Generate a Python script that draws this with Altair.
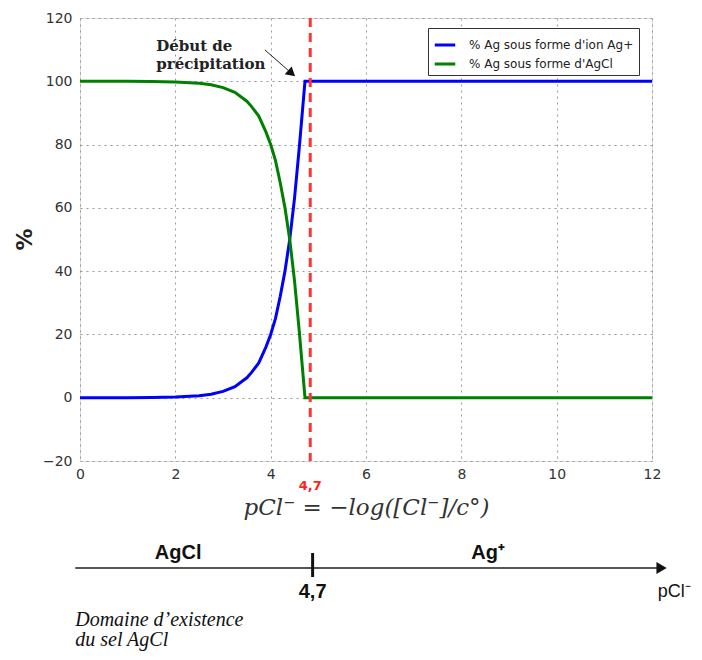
import altair as alt
import pandas as pd

# ---- data ----
pcl = [0, 0.5, 1, 1.5, 2, 2.5, 2.75, 3, 3.25, 3.5, 3.6, 3.75, 3.9, 4, 4.1, 4.2, 4.3, 4.4, 4.5, 4.6, 4.72, 5, 6, 8, 10, 12]
ag_ion = [0, 0.01, 0.02, 0.06, 0.2, 0.6, 1.1, 2, 3.5, 6.3, 8, 11, 16, 20, 25, 32, 40, 50, 63, 79, 100, 100, 100, 100, 100, 100]
ag_cl = [100, 99.99, 99.98, 99.94, 99.8, 99.4, 98.9, 98, 96.5, 93.7, 92, 89, 84, 80, 75, 68, 60, 50, 37, 21, 0, 0, 0, 0, 0, 0]
series_names = ["% Ag sous forme d'ion Ag+", "% Ag sous forme d'AgCl"]
series_colors = ["#0000ff", "#008000"]
x_ticks = [0, 2, 4, 6, 8, 10, 12]
y_ticks = [-20, 0, 20, 40, 60, 80, 100, 120]
precip_pcl = 4.83
precip_label = "4,7"

rows = []
for x, a, b in zip(pcl, ag_ion, ag_cl):
    rows.append({"x": x, "y": a, "serie": series_names[0]})
    rows.append({"x": x, "y": b, "serie": series_names[1]})
df = pd.DataFrame(rows)

xscale = alt.Scale(domain=[0, 12], nice=False, zero=False)
yscale = alt.Scale(domain=[-20, 120], nice=False, zero=False)
xaxis = alt.Axis(values=x_ticks, grid=True, gridDash=[2, 4], gridColor="#999", gridWidth=1,
                 ticks=False, labelFont="DejaVu Sans", labelFontSize=14, labelColor="#333",
                 labelPadding=6, domain=False, labelFlush=False,
                 title="pCl⁻  =  −log([Cl⁻]/c°)", titleFont="DejaVu Serif", titleFontStyle="italic",
                 titleFontWeight="normal", titleFontSize=23, titleColor="#333",
                 titleX=286, titleY=46, titleBaseline="middle")
yaxis = alt.Axis(values=y_ticks, grid=True, gridDash=[2, 4], gridColor="#999", gridWidth=1,
                 ticks=False, labelFont="DejaVu Sans", labelFontSize=14, labelColor="#333",
                 labelPadding=8, domain=False, labelFlush=False,
                 title="%", titleFont="DejaVu Sans", titleFontWeight="bold", titleFontSize=22,
                 titleColor="#222", titleAngle=-90, titleX=-56, titleY=221, titleBaseline="middle",
                 titleAlign="center")

X = alt.X("x:Q", scale=xscale, axis=xaxis)
Y = alt.Y("y:Q", scale=yscale, axis=yaxis)

lines = alt.Chart(df).mark_line(strokeWidth=3, clip=True).encode(
    x=X, y=Y,
    color=alt.Color("serie:N", scale=alt.Scale(domain=series_names, range=series_colors),
                    sort=series_names,
                    legend=alt.Legend(title=None, orient="none", legendX=348, legendY=10,
                                      strokeColor="#333", fillColor="white", padding=5,
                                      symbolType="stroke", symbolStrokeWidth=3, symbolSize=420,
                                      labelFont="DejaVu Sans", labelFontSize=12, labelColor="#222",
                                      labelOffset=12, rowPadding=1, cornerRadius=0, labelLimit=300)),
)

rule_df = pd.DataFrame({"x": [precip_pcl], "label": [precip_label]})
red_rule = alt.Chart(rule_df).mark_rule(color="#ff3333", strokeWidth=3, strokeDash=[9, 6]).encode(x=X)
red_label = alt.Chart(rule_df).mark_text(color="#ff2222", fontWeight="bold", fontSize=13,
                                         font="DejaVu Sans", clip=False).encode(
    x=X, y=alt.value(468), text="label:N")

# annotation "Début de précipitation"
ann_df = pd.DataFrame({"x": [1.6], "y": [111], "t": ["Début de\nprécipitation"]})
ann_text = alt.Chart(ann_df).mark_text(align="left", baseline="middle", lineBreak="\n",
                                       font="DejaVu Serif", fontWeight="bold", fontSize=15,
                                       color="#222", lineHeight=18).encode(
    x=X, y=alt.Y("y:Q", scale=yscale, axis=yaxis), text="t:N")
arrow_line_df = pd.DataFrame({"x": [3.88], "y": [109.9], "x2": [4.44], "y2": [102.5]})
arrow_line = alt.Chart(arrow_line_df).mark_rule(color="#222", strokeWidth=1).encode(
    x=X, y=alt.Y("y:Q", scale=yscale, axis=yaxis), x2="x2:Q", y2="y2:Q")
arrow_head_df = pd.DataFrame({"x": [4.44], "y": [102.5]})
arrow_head = alt.Chart(arrow_head_df).mark_point(shape="triangle-right", filled=True, color="#111",
                                                 size=110, angle=41, opacity=1).encode(
    x=X, y=alt.Y("y:Q", scale=yscale, axis=yaxis))

# bottom diagram
axis_df = pd.DataFrame({"x": [-0.1], "x2": [12.15]})
diag_line = alt.Chart(axis_df).mark_rule(color="#555", strokeWidth=2, clip=False).encode(
    x=X, x2="x2:Q", y=alt.value(550))
head_df = pd.DataFrame({"x": [12.2]})
diag_head = alt.Chart(head_df).mark_point(shape="triangle-right", filled=True, color="#111",
                                          size=140, opacity=1, clip=False).encode(x=X, y=alt.value(550))
tick_df = pd.DataFrame({"x": [4.88]})
diag_tick = alt.Chart(tick_df).mark_rule(color="#111", strokeWidth=3, clip=False).encode(
    x=X, y=alt.value(535), y2=alt.value(559))

lab_df = pd.DataFrame({"x": [2.06, 8.56], "t": ["AgCl", "Ag⁺"]})
diag_labels = alt.Chart(lab_df).mark_text(font="Liberation Sans", fontWeight="bold", fontSize=20,
                                          color="#111", clip=False).encode(
    x=X, y=alt.value(535), text="t:N")
val_df = pd.DataFrame({"x": [4.88], "t": [precip_label]})
diag_val = alt.Chart(val_df).mark_text(font="Liberation Sans", fontWeight="bold", fontSize=20,
                                       color="#111", clip=False).encode(
    x=X, y=alt.value(574), text="t:N")
pcl_df = pd.DataFrame({"x": [12.12], "t": ["pCl⁻"]})
diag_pcl = alt.Chart(pcl_df).mark_text(font="Liberation Sans", fontSize=18, align="left",
                                       color="#111", clip=False).encode(
    x=X, y=alt.value(574), text="t:N")
dom_df = pd.DataFrame({"x": [-0.1], "t": ["Domaine d’existence\ndu sel AgCl"]})
diag_dom = alt.Chart(dom_df).mark_text(font="Liberation Serif", fontStyle="italic", fontSize=20,
                                       align="left", baseline="middle", lineBreak="\n",
                                       lineHeight=20, color="#111", clip=False).encode(
    x=X, y=alt.value(602), text="t:N")

chart = alt.layer(lines, red_rule, red_label, ann_text, arrow_line, arrow_head,
                  diag_line, diag_head, diag_tick, diag_labels, diag_val, diag_pcl, diag_dom).properties(
    width=572, height=443,
    autosize=alt.AutoSizeParams(type="none"),
    padding={"left": 72, "top": 10, "right": 42, "bottom": 190},
).configure_view(stroke="#555", strokeWidth=1.5).configure(background="white")

chart.save("out.html", embed_options={"renderer": "svg", "actions": False})
